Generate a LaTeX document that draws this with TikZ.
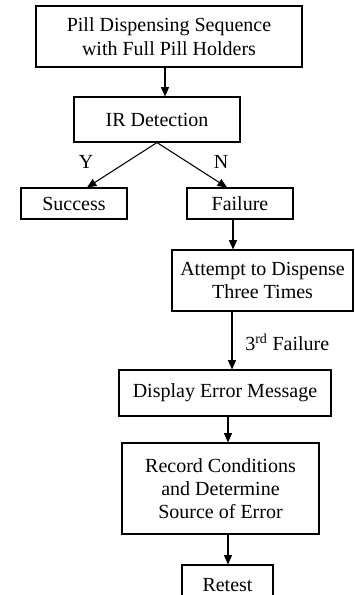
\documentclass[tikz,border=0pt]{standalone}
\usepackage{fontspec}
\setmainfont{Liberation Serif}
\usetikzlibrary{arrows.meta,calc}
\tikzset{
  box/.style={draw, line width=0.8pt, align=center, inner sep=0pt,
    font=\fontsize{15}{17.5}\selectfont},
  lbl/.style={font=\fontsize{15}{17.5}\selectfont, inner sep=0pt},
  arr/.style={line width=0.8pt, -{Triangle[length=7pt,width=6pt]}},
  size/.style 2 args={minimum width={#1*0.75pt}, minimum height={#2*0.75pt}}
}
\begin{document}
\begin{tikzpicture}[x=0.75pt,y=-0.75pt]
  \useasboundingbox (0,0) rectangle (354,595);
  \node (Seq) [box, size={266}{61}] at (169,36.5)
    {Pill Dispensing Sequence\\with Full Pill Holders};
  \node (IR) [box, size={166}{45}] at (157,119.5) {IR Detection};
  \node (Succ) [box, size={106}{31}] at (74,203.5) {Success};
  \node (Fail) [box, size={106}{31}] at (240,203.5) {Failure};
  \node (Try) [box, size={181}{61}] at (262.5,280.5)
    {Attempt to Dispense\\Three Times};
  \node (Err) [box, size={212}{46}] at (225,393) {Display Error Message};
  \node (Rec) [box, size={197}{91}] at (220.5,488.5)
    {Record Conditions\\and Determine\\Source of Error};
  \node (Re) [box, size={91}{40}] at (227.5,585) {Retest};
  \node (Y) [lbl] at (86,162) {Y};
  \node (N) [lbl] at (221,162) {N};
  \node (F3) [lbl, anchor=west] at (245,342) {3\textsuperscript{rd} Failure};
  \path[arr]
    (Seq.south -| 165,0) edge (IR.north -| 165,0)
    (IR.south) edge (Succ.north -| 87,0)
               edge (Fail.north -| 227,0)
    (Fail.south -| 233,0) edge (Try.north -| 233,0)
    (Try.south -| 232,0) edge (Err.north -| 232,0)
    (Err.south -| 228,0) edge (Rec.north -| 228,0)
    (Rec.south -| 228,0) edge (Re.north -| 228,0);
\end{tikzpicture}
\end{document}
